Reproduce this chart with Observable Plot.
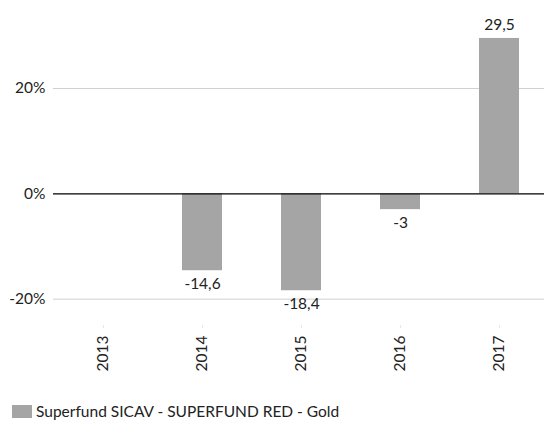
<!DOCTYPE html>
<html>
<head>
<meta charset="utf-8">
<script src="https://cdn.jsdelivr.net/npm/d3@7"></script>
<script src="https://cdn.jsdelivr.net/npm/@observablehq/plot@0.6"></script>
<style>
  html, body { margin: 0; padding: 0; background: #fff; }
  body { width: 544px; height: 421px; overflow: hidden; font-family: Lato, "Open Sans", sans-serif; }
  #legend { display: flex; align-items: center; margin-left: 12px; margin-top: 14px; font-size: 15.5px; color: #222; }
  #legend .sw { width: 20px; height: 13px; background: #a5a5a5; margin-right: 4px; }
</style>
</head>
<body>
<div id="chart"></div>
<div id="legend"><span class="sw"></span><span>Superfund SICAV - SUPERFUND RED - Gold</span></div>
<script>
const years = ["2013", "2014", "2015", "2016", "2017"];
const values = [null, -14.6, -18.4, -3, 29.5];
const yTicks = [-20, 0, 20];
const seriesName = "Superfund SICAV - SUPERFUND RED - Gold";

const data = years.map((y, i) => ({year: y, value: values[i]})).filter(d => d.value != null);
const pos = data.filter(d => d.value >= 0);
const neg = data.filter(d => d.value < 0);
const fmt = v => String(v).replace(".", ",");

const chart = Plot.plot({
  width: 544,
  height: 388,
  marginLeft: 53,
  marginRight: -4,
  marginTop: 9,
  marginBottom: 63,
  style: {fontFamily: "Lato, 'Open Sans', sans-serif", fontSize: "15.5px", color: "#222", background: "#fff"},
  x: {domain: years, paddingInner: 0.6, paddingOuter: 0.3, label: null},
  y: {domain: [-25, 35], label: null},
  marks: [
    Plot.ruleY(yTicks.filter(t => t !== 0), {stroke: "#d0d0d0", strokeWidth: 1}),
    Plot.barY(data, {x: "year", y: "value", fill: "#a5a5a5"}),
    Plot.ruleY([0], {stroke: "#000", strokeWidth: 1.2}),
    Plot.axisY({ticks: yTicks, tickSize: 0, tickPadding: 8, tickFormat: d => d + "%", fontSize: 15.5, label: null}),
    Plot.axisX({tickRotate: -90, tickSize: 3, tickPadding: 7, stroke: "#e6e6e6", fontSize: 15.5, label: null}),
    Plot.text(pos, {x: "year", y: "value", text: d => fmt(d.value), dy: -13, fontSize: 15.5, fill: "#222"}),
    Plot.text(neg, {x: "year", y: "value", text: d => fmt(d.value), dy: 13, fontSize: 15.5, fill: "#222"})
  ]
});
document.getElementById("chart").appendChild(chart);
</script>
</body>
</html>
